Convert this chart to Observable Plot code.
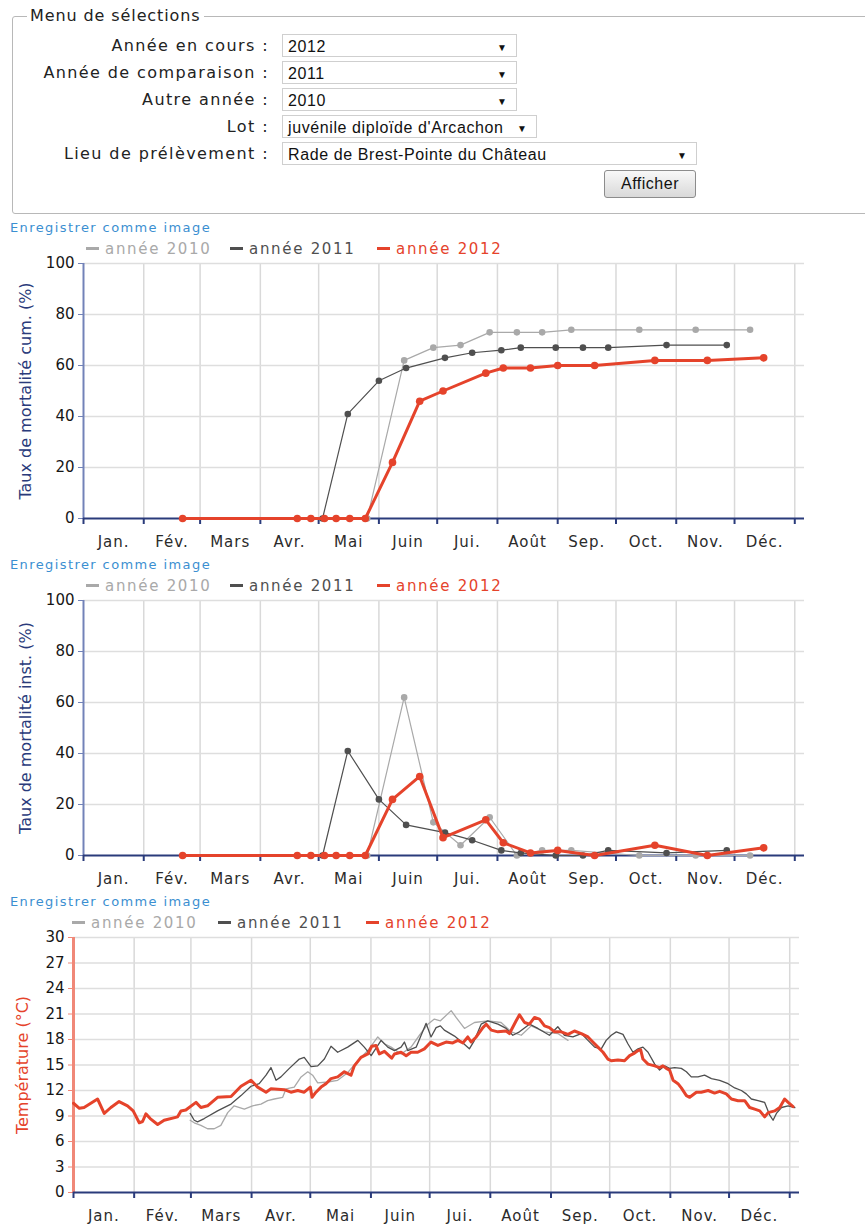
<!DOCTYPE html>
<html><head><meta charset="utf-8">
<script src="https://cdn.jsdelivr.net/npm/d3@7"></script>
<script src="https://cdn.jsdelivr.net/npm/@observablehq/plot@0.6"></script>
<style>
body{margin:0;background:#fff;}
#page{position:relative;width:865px;height:1225px;overflow:hidden;font-family:"DejaVu Sans",sans-serif;}
.abs{position:absolute;}
.fs{left:12px;top:16px;width:880px;height:196px;border:1px solid #b8b8b8;border-radius:3px;}
.lgd{left:27px;top:5px;font-size:16px;letter-spacing:0.9px;color:#222;background:#fff;padding:0 3px;line-height:22px;}
.lab{left:0;width:269px;text-align:right;font-size:16px;letter-spacing:1.4px;color:#222;line-height:24px;}
.sel{left:282px;height:23px;border:1px solid #cfcfcf;background:#fff;font-family:"Liberation Sans",Arial,sans-serif;font-size:16px;letter-spacing:0.6px;line-height:23px;color:#111;box-sizing:border-box;padding-left:5px;}
.sel span{position:absolute;right:9px;top:1px;font-size:10px;color:#111;letter-spacing:0;}
.btn{left:604px;top:170px;width:92px;height:28px;box-sizing:border-box;border:1px solid #8c8c8c;border-radius:3px;background:linear-gradient(#f8f8f8,#d9d9d9);font-family:"Liberation Sans",Arial,sans-serif;font-size:16px;letter-spacing:0.5px;line-height:26px;text-align:center;color:#111;}
.save{left:10px;font-family:"DejaVu Sans",sans-serif;font-size:13px;letter-spacing:1.4px;color:#3b8fd1;line-height:14px;z-index:3;}
.leg{font-family:"DejaVu Sans",sans-serif;font-size:15px;letter-spacing:1.7px;line-height:18px;z-index:3;white-space:nowrap;}
.leg i{display:inline-block;width:13px;height:3px;vertical-align:middle;margin-right:6px;position:relative;top:-1px;}
.chart{left:0;z-index:1;}
svg g[aria-label="x-axis tick label"]{letter-spacing:1px;}
</style></head>
<body><div id="page">
  <div class="abs fs"></div>
  <div class="abs lgd">Menu de sélections</div>
  <div class="abs lab" style="top:34px">Année en cours :</div>
  <div class="abs lab" style="top:61px">Année de comparaison :</div>
  <div class="abs lab" style="top:88px">Autre année :</div>
  <div class="abs lab" style="top:115px">Lot :</div>
  <div class="abs lab" style="top:142px">Lieu de prélèvement :</div>
  <div class="abs sel" style="top:34px;width:235px">2012<span>▼</span></div>
  <div class="abs sel" style="top:61px;width:235px">2011<span>▼</span></div>
  <div class="abs sel" style="top:88px;width:235px">2010<span>▼</span></div>
  <div class="abs sel" style="top:115px;width:255px">juvénile diploïde d'Arcachon<span>▼</span></div>
  <div class="abs sel" style="top:142px;width:415px">Rade de Brest-Pointe du Château<span>▼</span></div>
  <div class="abs btn">Afficher</div>
  <div id="c1" class="abs chart" style="top:253px"></div>
  <div id="c2" class="abs chart" style="top:590px"></div>
  <div id="c3" class="abs chart" style="top:927px"></div>
</div>
<script>
// ---------- data ----------
const months = ["Jan.","Fév.","Mars","Avr.","Mai","Juin","Jui.","Août","Sep.","Oct.","Nov.","Déc."];
const years = ["2010","2011","2012"];
const yearLabels = ["année 2010","année 2011","année 2012"];
const saveLabel = "Enregistrer comme image";
const mortTicks = [0,20,40,60,80,100];
const tempTicks = [0,3,6,9,12,15,18,21,24,27,30];

// sampling days (day of year) and mortality values (%)
const days2010 = [146,165,180,194,209,223,236,251,286,315,343];
const cum2010  = [0,62,67,68,73,73,73,74,74,74,74];
const inst2010 = [0,62,13,4,15,0,2,2,0,0,0];
const days2011 = [123,136,152,166,186,200,215,225,243,257,270,300,331];
const cum2011  = [0,41,54,59,63,65,66,67,67,67,67,68,68];
const inst2011 = [0,41,22,12,9,6,2,1,0,0,2,1,2];
const days2012 = [51,110,117,124,130,137,145,159,173,185,207,216,230,244,263,294,321,350];
const cum2012  = [0,0,0,0,0,0,0,22,46,50,57,59,59,60,60,62,62,63];
const inst2012 = [0,0,0,0,0,0,0,22,31,7,14,5,1,2,0,4,0,3];

// temperature: [day of year, °C]
const temp2010 = [[59.6,8.5],[61.7,8.2],[65.1,7.9],[68.5,7.5],[71.9,7.5],[75.3,7.9],[78.8,9.4],[82.1,10.2],[87.3,9.8],[91.5,10.2],[95.8,10.4],[99.2,10.8],[102.6,11.0],[106.9,11.2],[108.6,12.2],[112.8,12.4],[116.3,13.6],[119.7,14.2],[122.2,13.8],[124.8,12.9],[129.9,13.0],[135,13.2],[140.1,14.1],[145.3,15.5],[150.4,16.7],[155.5,18.3],[158.9,17.5],[162.3,17.1],[167.4,16.3],[172.5,17.1],[176.8,18.5],[181.1,19.8],[184.4,20.4],[187.5,20.2],[193,21.4],[195.5,20.6],[199.8,19.3],[204.9,20.0],[211.7,20.2],[218.5,20.0],[223.7,18.9],[228.8,18.5],[233.9,19.6],[240.7,18.9],[247.5,18.7],[252.7,17.9]];
const temp2011 = [[59.6,9.3],[61.7,8.5],[63.4,8.3],[66.8,8.7],[73.6,9.6],[80.5,10.4],[85.6,11.4],[90.7,12.5],[94.9,12.8],[98.4,13.8],[100.9,14.7],[103.5,13.2],[106,13.6],[110.3,14.6],[115.4,15.7],[117.9,15.9],[121.4,14.8],[124.8,14.9],[128.2,15.7],[131.6,17.2],[135,16.5],[140.1,17.1],[145.3,17.9],[148.6,17.1],[152.1,16.1],[157.2,17.9],[160.6,17.1],[164,16.7],[167.4,17.1],[169.1,17.7],[170.8,16.7],[175.1,17.1],[180.2,19.9],[182.7,18.3],[185.3,19.4],[187.5,19.6],[189.5,19.1],[194.7,18.4],[199,17.6],[202.3,16.9],[204.9,17.9],[208.3,19.8],[211.7,20.2],[216.9,19.8],[221.1,19.3],[224.5,18.5],[227.9,18.9],[233,19.8],[237.3,19.3],[243.2,18.5],[247.5,19.5],[250.9,18.5],[255.2,18.3],[259.5,18.7],[262.9,17.9],[266.3,17.1],[269.7,16.9],[272.2,17.9],[274.8,18.5],[277.4,18.9],[280.8,18.6],[283.3,17.5],[285.9,16.5],[288.5,16.9],[291,17.1],[293.6,16.5],[297,15.1],[299.5,14.4],[302.1,14.9],[304.6,14.6],[307.2,14.7],[310.6,14.6],[313.2,14.2],[315.7,13.6],[319.1,13.6],[322.5,13.8],[326,13.4],[330.2,13.2],[334.5,12.8],[337.9,12.3],[341.3,12.0],[343.8,11.6],[346.4,11.0],[349.8,10.8],[353.2,10.6],[355.8,9.1],[357.5,8.5],[359.2,9.3],[361.8,10.0],[365.2,10.2],[368.6,10.0]];
const temp2012 = [[0,10.5],[3,9.9],[5.4,10.0],[12.3,11.0],[15.7,9.3],[19.1,10.0],[23.3,10.7],[27.6,10.2],[30.5,9.6],[33.6,8.2],[35.3,8.35],[37,9.25],[39.2,8.7],[43,8.0],[46.3,8.5],[53.2,8.9],[54.9,9.6],[57.4,9.7],[62.6,10.6],[65.1,10.0],[68.5,10.2],[73.6,11.2],[80.5,11.3],[85.6,12.5],[90.7,13.2],[94.1,12.4],[98.4,11.8],[100.9,12.2],[107.7,12.1],[111.1,11.8],[114.6,12.0],[117.9,11.8],[121,12.4],[121.9,11.2],[123.9,11.8],[126.5,12.4],[129,12.8],[131.6,13.4],[135,13.6],[138.4,14.2],[141.8,13.8],[143.5,14.9],[146.9,15.9],[150.4,16.3],[152.4,17.2],[154.6,17.3],[156.3,16.3],[158.9,16.6],[162.6,15.8],[164,16.3],[167.4,16.5],[170,16.1],[172.5,16.5],[175.9,16.5],[179.3,16.9],[182.7,17.7],[186.2,17.3],[190.4,17.7],[193.8,17.6],[196.4,17.9],[199,17.6],[201.5,18.3],[203.2,17.7],[205.8,18.3],[209.2,19.4],[210.9,19.8],[213.5,19.1],[216.9,18.9],[221.1,19.0],[222.8,18.7],[226.2,20.2],[227.9,20.9],[230.5,20.0],[233,19.8],[235.6,20.6],[238.1,20.4],[240.7,19.6],[243.2,19.4],[245.8,18.9],[249.2,18.9],[252.7,18.6],[256,19.0],[259.5,18.7],[262.9,18.3],[265.4,17.7],[268,17.1],[270.6,16.5],[273.1,15.7],[274.8,15.5],[278.2,15.6],[281.6,15.5],[284.2,16.1],[286.7,16.4],[288.5,16.7],[289.8,16.8],[291,15.7],[293.6,15.1],[297,14.9],[299.5,14.7],[301.2,14.9],[302.9,14.6],[304.6,14.4],[306.4,13.2],[308.9,12.8],[310.6,12.3],[313.2,11.4],[314.9,11.2],[318.3,11.8],[320.8,11.8],[324.3,12.0],[327.6,11.7],[330.2,11.9],[333.6,11.6],[336.2,11.0],[339.6,10.8],[343,10.8],[345.5,10.0],[348.1,9.8],[350.7,9.6],[353.2,8.9],[355,9.4],[358.3,9.6],[360.9,10.0],[363.4,11.0],[365.2,10.6],[367.7,10.1]];

// ---------- helpers ----------
const colors = {"2010":"#a9a9a9","2011":"#4f4f4f","2012":"#e5432b"};
const navy = "#2a3b7b", axisBlue = "#7282b8", axisRed = "#f08878";
const day = d => new Date(Date.UTC(2012,0,1) + d*864e5);
const xDomain = [day(0), day(371)];
const monthStarts = d3.range(13).map(m => new Date(Date.UTC(2012, m, 1)));
const monthMids = d3.range(12).map(m => new Date((Date.UTC(2012,m,1)+Date.UTC(2012,m+1,1))/2));
const rows = (days, vals) => days.map((d,i) => ({date: day(d), v: vals[i]}));
const pairs = arr => arr.map(([d,v]) => ({date: day(d), v}));

function frameMarks(ticks, leftColor, leftWidth){
  return [
    Plot.gridX(monthStarts.slice(1), {stroke:"#d9d9d9", strokeOpacity:1, strokeWidth:1.5}),
    Plot.gridY(ticks.slice(1), {stroke:"#dedede", strokeOpacity:1, strokeWidth:1.5}),
    Plot.ruleX([xDomain[0]], {stroke:leftColor, strokeWidth:leftWidth}),
    Plot.axisY(ticks, {tickSize:5, tickPadding:4, stroke:leftColor, fill:"#161616", label:null, fontSize:15}),
    Plot.ruleY([ticks[0]], {stroke:navy, strokeWidth:2}),
    Plot.axisX(monthStarts, {tickSize:6, tickFormat:() => "", stroke:navy, strokeWidth:2, label:null}),
    Plot.axisX(monthMids, {tickSize:0, tickPadding:18, tickFormat:d => months[d.getUTCMonth()], fill:"#2b2b2b", label:null, fontSize:15})
  ];
}

function mortalityChart(title, series){
  const marks = frameMarks(mortTicks, axisBlue, 2);
  marks.push(Plot.text([title], {frameAnchor:"left", textAnchor:"middle", dx:-58, rotate:-90, fill:navy, fontSize:16}));
  series.forEach(([yr, data]) => {
    const w = yr === "2012" ? 3 : 1.2;
    marks.push(Plot.line(data, {x:"date", y:"v", stroke:colors[yr], strokeWidth:w}));
    marks.push(Plot.dot(data, {x:"date", y:"v", fill:colors[yr], r: yr === "2012" ? 3.8 : 3.3}));
  });
  return Plot.plot({
    width:865, height:305, marginLeft:83, marginRight:61, marginTop:10, marginBottom:40,
    style:{fontFamily:"'DejaVu Sans', sans-serif", fontSize:"15px", background:"transparent", overflow:"visible"},
    x:{type:"utc", domain:xDomain}, y:{domain:[0,100]},
    marks
  });
}

function tempChart(){
  const marks = frameMarks(tempTicks, axisRed, 3);
  marks.push(Plot.text(["Température (°C)"], {frameAnchor:"left", textAnchor:"middle", dx:-51, rotate:-90, fill:"#e5432b", fontSize:16}));
  marks.push(Plot.line(pairs(temp2010), {x:"date", y:"v", stroke:colors["2010"], strokeWidth:1.3}));
  marks.push(Plot.line(pairs(temp2011), {x:"date", y:"v", stroke:colors["2011"], strokeWidth:1.3}));
  marks.push(Plot.line(pairs(temp2012), {x:"date", y:"v", stroke:colors["2012"], strokeWidth:3, strokeLinejoin:"round"}));
  return Plot.plot({
    width:865, height:298, marginLeft:73, marginRight:66, marginTop:10, marginBottom:33,
    style:{fontFamily:"'DejaVu Sans', sans-serif", fontSize:"15px", background:"transparent", overflow:"visible"},
    x:{type:"utc", domain:xDomain}, y:{domain:[0,30]},
    marks
  });
}

function addHeader(top, legendLefts){
  const page = document.getElementById("page");
  const s = document.createElement("div");
  s.className = "abs save"; s.style.top = (top - 7) + "px"; s.textContent = saveLabel;
  page.appendChild(s);
  years.forEach((yr, i) => {
    const d = document.createElement("div");
    d.className = "abs leg";
    d.style.left = legendLefts[i] + "px";
    d.style.top = (top + 21 - 9) + "px";
    d.style.color = colors[yr];
    const sw = document.createElement("i"); sw.style.background = colors[yr];
    d.appendChild(sw);
    d.appendChild(document.createTextNode(yearLabels[i]));
    page.appendChild(d);
  });
}

document.getElementById("c1").appendChild(mortalityChart("Taux de mortalité cum. (%)", [
  ["2010", rows(days2010, cum2010)], ["2011", rows(days2011, cum2011)], ["2012", rows(days2012, cum2012)]]));
document.getElementById("c2").appendChild(mortalityChart("Taux de mortalité inst. (%)", [
  ["2010", rows(days2010, inst2010)], ["2011", rows(days2011, inst2011)], ["2012", rows(days2012, inst2012)]]));
document.getElementById("c3").appendChild(tempChart());
addHeader(228, [86, 230, 377]);
addHeader(565, [86, 230, 377]);
addHeader(902, [72, 218, 366]);
</script>
</body></html>
